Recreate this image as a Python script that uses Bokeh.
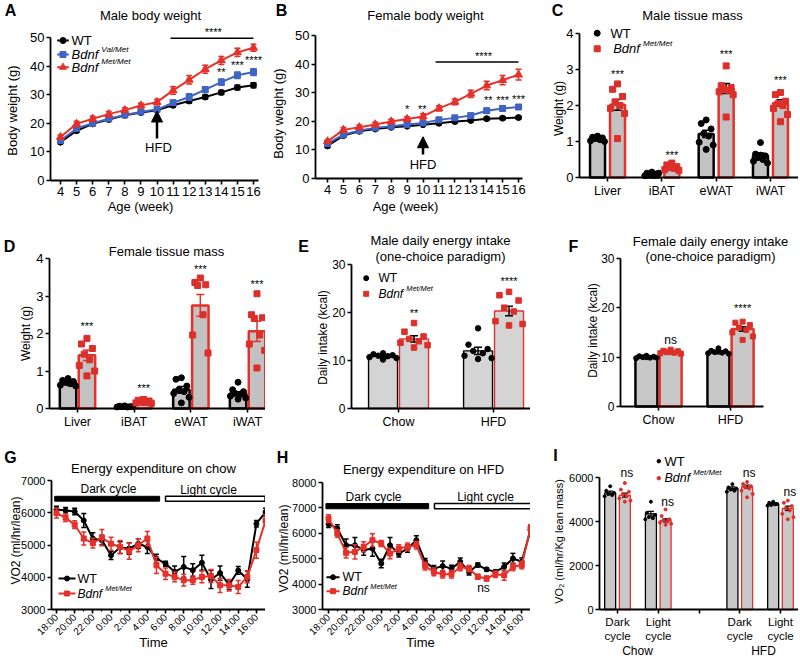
import math
from bokeh.plotting import figure
from bokeh.models import Range1d, FixedTicker, Label, Arrow, NormalHead
from bokeh.layouts import column, row
from bokeh.embed import file_html
from bokeh.resources import INLINE

FONT = "Liberation Sans"
RED = "#e5312a"
PTRED = "#dc2f2a"
BLUE = "#3f64c4"
BLACK = "#000000"

# ---------------- data ----------------
weeks = list(range(4, 17))
A_wt = [13.4, 17.4, 19.8, 21.3, 22.8, 23.8, 24.6, 26.3, 27.8, 29.2, 30.8, 32.5, 33.3]
A_wt_e = [0.5, 0.5, 0.5, 0.5, 0.5, 0.5, 0.5, 0.6, 0.7, 0.7, 0.7, 0.8, 0.9]
A_vm = [14.0, 18.2, 20.0, 21.6, 22.9, 24.0, 24.8, 27.2, 29.2, 31.8, 34.4, 36.8, 37.9]
A_vm_e = [0.5, 0.6, 0.6, 0.6, 0.5, 0.5, 0.6, 0.9, 1.1, 1.0, 1.1, 1.1, 1.2]
A_mm = [15.2, 19.8, 21.6, 23.2, 24.6, 26.2, 27.4, 31.5, 35.2, 38.9, 42.0, 44.8, 46.4]
A_mm_e = [0.7, 0.9, 0.9, 0.9, 0.8, 0.8, 1.0, 1.3, 1.5, 1.4, 1.4, 1.4, 1.2]

B_wt = [11.4, 15.0, 16.5, 17.3, 17.9, 18.3, 18.8, 19.3, 19.9, 20.3, 20.9, 21.1, 21.3]
B_wt_e = [0.5, 0.4, 0.4, 0.4, 0.4, 0.4, 0.4, 0.4, 0.5, 0.5, 0.5, 0.5, 0.5]
B_vm = [12.2, 15.3, 16.8, 17.7, 18.3, 18.9, 19.4, 20.5, 21.2, 22.0, 23.7, 24.5, 25.0]
B_vm_e = [0.5, 0.5, 0.5, 0.5, 0.5, 0.6, 0.6, 0.7, 0.7, 0.7, 0.8, 0.8, 0.8]
B_mm = [13.0, 17.0, 17.9, 18.9, 19.9, 20.8, 21.7, 24.5, 26.8, 29.6, 32.5, 34.4, 36.3]
B_mm_e = [0.5, 0.8, 0.8, 0.8, 0.8, 0.8, 0.9, 0.9, 1.0, 1.3, 1.5, 1.6, 1.9]

tissues = ["Liver", "iBAT", "eWAT", "iWAT"]
C_wt_mean = [1.07, 0.10, 1.21, 0.60]
C_wt_sem = [0.04, 0.02, 0.10, 0.08]
C_mm_mean = [2.02, 0.28, 2.47, 2.07]
C_mm_sem = [0.15, 0.03, 0.14, 0.09]
C_wt_pts = [[1.15, 1.12, 1.10, 1.08, 1.05, 1.02, 1.00, 1.10],
            [0.15, 0.12, 0.10, 0.08, 0.06, 0.05, 0.12, 0.09],
            [1.60, 1.50, 1.35, 1.22, 1.15, 0.98, 0.90, 0.78],
            [0.97, 0.65, 0.60, 0.55, 0.50, 0.45, 0.40, 0.62]]
C_mm_pts = [[2.60, 2.45, 2.25, 2.10, 2.00, 1.92, 1.78, 1.08],
            [0.40, 0.35, 0.30, 0.28, 0.25, 0.22, 0.20, 0.30],
            [3.10, 2.55, 2.50, 2.45, 2.42, 2.38, 2.30, 1.68],
            [2.36, 2.30, 2.12, 2.05, 2.00, 1.92, 1.75, 1.55]]
C_star_y = [2.88, 0.62, 3.42, 2.70]

D_wt_mean = [0.68, 0.05, 0.50, 0.40]
D_wt_sem = [0.04, 0.01, 0.09, 0.05]
D_mm_mean = [1.42, 0.18, 2.75, 2.06]
D_mm_sem = [0.14, 0.02, 0.29, 0.27]
D_wt_pts = [[0.80, 0.75, 0.72, 0.70, 0.66, 0.62, 0.60, 0.68],
            [0.07, 0.06, 0.05, 0.05, 0.04, 0.04, 0.05, 0.06],
            [0.82, 0.78, 0.60, 0.50, 0.45, 0.40, 0.30, 0.15],
            [0.70, 0.50, 0.45, 0.40, 0.38, 0.33, 0.28, 0.25]]
D_mm_pts = [[1.87, 1.72, 1.60, 1.45, 1.30, 1.15, 1.00, 0.87],
            [0.24, 0.22, 0.20, 0.18, 0.17, 0.15, 0.14, 0.16],
            [3.48, 3.36, 3.30, 3.28, 2.50, 1.96, 1.48],
            [3.06, 2.50, 2.42, 2.40, 1.96, 1.72, 1.55, 1.08]]
D_star_y = [2.20, 0.56, 3.73, 3.33]

diets = ["Chow", "HFD"]
E_wt_mean = [10.9, 12.0]
E_wt_sem = [0.25, 0.75]
E_mm_mean = [14.5, 20.3]
E_mm_sem = [0.65, 1.0]
E_wt_pts = [[11.5, 11.3, 11.1, 11.0, 10.9, 10.7, 10.5, 10.2],
            [16.7, 13.3, 12.4, 12.0, 11.5, 11.0, 10.5, 10.3]]
E_mm_pts = [[17.8, 16.0, 15.0, 14.5, 14.0, 13.7, 13.2, 12.7],
            [24.3, 23.6, 22.5, 21.0, 20.2, 18.2, 17.6, 17.3]]
E_marks = ["**", "****"]
E_mark_y = [20.0, 26.5]

F_wt_mean = [10.0, 11.0]
F_wt_sem = [0.10, 0.12]
F_mm_mean = [11.1, 15.7]
F_mm_sem = [0.12, 0.45]
F_wt_pts = [[10.3, 10.2, 10.1, 10.0, 9.9, 9.8, 9.9, 10.0],
            [11.8, 11.3, 11.2, 11.0, 10.9, 10.8, 10.7, 11.1]]
F_mm_pts = [[11.5, 11.3, 11.2, 11.0, 10.9, 10.8, 10.7, 11.1],
            [17.2, 17.0, 16.5, 16.0, 15.5, 15.0, 14.2, 13.5]]
F_marks = ["ns", "****"]
F_mark_y = [13.4, 19.9]

hours = list(range(24))
time_ticks = list(range(0, 24, 2))
time_labels = ["18:00", "20:00", "22:00", "0:00", "2:00", "4:00",
               "6:00", "8:00", "10:00", "12:00", "14:00", "16:00"]
G_wt = [6100, 6070, 6040, 5760, 5200, 5150, 4680, 4920, 4890, 5040, 4940, 4580,
        4420, 4170, 4320, 4220, 4450, 3930, 4130, 3770, 4210, 3940, 5660, 6020]
G_wt_e = [100, 90, 100, 220, 180, 150, 130, 180, 180, 150, 200, 130,
          80, 180, 320, 200, 230, 280, 220, 150, 120, 250, 100, 120]
G_mm = [5990, 5850, 5630, 5200, 5060, 5230, 5040, 4940, 4810, 4990, 5200, 4370,
        4110, 4010, 3910, 3910, 4010, 4040, 3750, 3750, 3700, 4010, 4840, 5760]
G_mm_e = [150, 120, 120, 200, 150, 250, 200, 200, 250, 200, 220, 250,
          180, 150, 180, 130, 180, 200, 220, 180, 200, 180, 250, 180]

H_wt = [6360, 6190, 5530, 5530, 5340, 5400, 4810, 5530, 5200, 5400, 5730, 4880,
        4610, 4710, 4610, 4880, 4480, 4750, 4580, 4480, 4680, 5010, 4880, 6130]
H_wt_e = [130, 150, 250, 300, 200, 300, 170, 300, 130, 150, 170, 130,
          120, 200, 130, 150, 120, 80, 60, 80, 150, 200, 150, 200]
H_mm = [6580, 5990, 5230, 5270, 5470, 5730, 5600, 5200, 5400, 5470, 5530, 4710,
        4480, 4390, 4390, 4680, 4610, 4290, 4220, 4390, 4350, 4680, 4750, 6190]
H_mm_e = [150, 150, 200, 280, 200, 250, 120, 200, 150, 150, 150, 150,
          150, 150, 150, 150, 120, 100, 100, 130, 200, 150, 150, 150]

I_cycles = ["Dark\ncycle", "Light\ncycle", "", "Dark\ncycle", "Light\ncycle"]
I_groups = ["Chow", "HFD"]
I_wt_mean = [5300, 4350, 5500, 4800]
I_wt_sem = [80, 110, 70, 50]
I_mm_mean = [5200, 4050, 5580, 4600]
I_mm_sem = [90, 70, 80, 100]
I_wt_pts = [[5600, 5400, 5300, 5250, 5200, 5150],
            [4900, 4400, 4300, 4200, 4150, 4100],
            [5700, 5550, 5500, 5450, 5400, 5350],
            [4900, 4850, 4800, 4750, 4780, 4720]]
I_mm_pts = [[5750, 5450, 5350, 5250, 5150, 5050, 4950, 4900],
            [4550, 4250, 4100, 4050, 4000, 3950, 3900, 3850],
            [5800, 5700, 5600, 5550, 5500, 5400, 5250, 5100],
            [4950, 4850, 4700, 4600, 4500, 4350, 4200, 4100]]
I_marks = ["ns", "ns", "ns", "ns"]
I_mark_y = [6185, 4872, 6185, 5324]

# ---------------- helpers ----------------
JIT = [0.0, -0.6, 0.6, -0.3, 0.3, -0.85, 0.85, 0.0, -0.45, 0.45]


class Panel:
    """Figure whose frame fills its box; axes are pinned (fixed_location) at the data origin."""

    def __init__(self, box, axx, xr, yspec, yticks, xticks, xlabels=None,
                 xfont=12, yfont=12, xorient=None, minor=None):
        bx0, by0, bx1, by1 = box
        fx0, fx1 = axx                     # pixel extent of the x axis
        ymin, pymin, ymax, pymax = yspec   # data values at pixel rows
        kx = (xr[1] - xr[0]) / (fx1 - fx0)
        ky = (ymax - ymin) / (pymin - pymax)
        self.box = box
        self.kx, self.ky = kx, ky
        self.x0 = xr[0] - (fx0 - bx0) * kx
        self.x1 = xr[0] + (bx1 - fx0) * kx
        self.y0 = ymin - (by1 - pymin) * ky
        self.y1 = ymin + (pymin - by0) * ky
        p = figure(width=bx1 - bx0, height=by1 - by0, output_backend="svg",
                   toolbar_location=None, title=None,
                   x_range=Range1d(self.x0, self.x1), y_range=Range1d(self.y0, self.y1),
                   min_border=0)
        p.xgrid.visible = False
        p.ygrid.visible = False
        p.outline_line_color = None
        p.yaxis.fixed_location = xr[0]
        p.xaxis.fixed_location = ymin
        p.yaxis.bounds = (ymin, ymax)
        p.xaxis.bounds = (xr[0], xr[1])
        for ax in (p.xaxis[0], p.yaxis[0]):
            ax.axis_line_color = "black"
            ax.axis_line_width = 1.8
            ax.major_tick_line_color = "black"
            ax.major_tick_line_width = 1.6
            ax.major_tick_out = 4
            ax.major_tick_in = 0
            ax.minor_tick_line_color = None
            ax.major_label_text_font = FONT
            ax.major_label_text_color = "black"
            ax.major_label_standoff = 2
        p.xaxis.major_label_text_font_size = f"{xfont}px"
        p.yaxis.major_label_text_font_size = f"{yfont}px"
        p.yaxis.ticker = FixedTicker(ticks=yticks)
        p.xaxis.ticker = FixedTicker(ticks=xticks, minor_ticks=minor or [])
        if minor:
            p.xaxis.minor_tick_line_color = "black"
            p.xaxis.minor_tick_line_width = 1.2
            p.xaxis.minor_tick_out = 2
            p.xaxis.minor_tick_in = 0
        if xlabels is not None:
            p.xaxis.major_label_overrides = {t: l for t, l in zip(xticks, xlabels)}
        if xorient:
            p.xaxis.major_label_orientation = xorient
        self.p = p

    def X(self, px):
        return self.x0 + (px - self.box[0]) * self.kx

    def Y(self, py):
        return self.y0 + (self.box[3] - py) * self.ky

    def dx(self, npx):
        return npx * self.kx

    def T(self, px, py, s, size=12, align="center", baseline="middle",
          angle=0.0, style="normal", color="black"):
        self.p.add_layout(Label(x=px - self.box[0], y=self.box[3] - py,
                                x_units="screen", y_units="screen",
                                text=s, text_font=FONT, text_font_size=f"{size}px",
                                text_align=align, text_baseline=baseline, angle=angle,
                                text_font_style=style, text_color=color))

    def DT(self, x, y, s, size=12, align="center", baseline="middle", color="black"):
        self.p.add_layout(Label(x=x, y=y, text=s, text_font=FONT, text_font_size=f"{size}px",
                                text_align=align, text_baseline=baseline, text_color=color))


def errbars(P, xs, ys, es, color, cap_px=7, lw=1.5):
    h = P.dx(cap_px / 2)
    lo = [y - e for y, e in zip(ys, es)]
    hi = [y + e for y, e in zip(ys, es)]
    P.p.segment(x0=xs, y0=lo, x1=xs, y1=hi, line_color=color, line_width=lw)
    xl = [x - h for x in xs]
    xr = [x + h for x in xs]
    P.p.segment(x0=xl, y0=hi, x1=xr, y1=hi, line_color=color, line_width=lw)
    P.p.segment(x0=xl, y0=lo, x1=xr, y1=lo, line_color=color, line_width=lw)


def series(P, x, y, e, color, marker, msize, cap=6):
    errbars(P, x, y, e, color, cap, 1.5)
    P.p.line(x, y, line_color=color, line_width=2)
    P.p.scatter(x, y, marker=marker, size=msize, color=color)


def bars(P, centers, off, width, wt_m, wt_e, mm_m, mm_e, wt_pts, mm_pts, fill, lw,
         ecol_wt, ecol_mm, msize, mm_marker="square", spread=0.55, cap=8, err_lw=1.5):
    xw = [c - off for c in centers]
    xm = [c + off for c in centers]
    P.p.vbar(x=xw, top=wt_m, width=width, bottom=0, fill_color=fill, line_color=BLACK, line_width=lw)
    P.p.vbar(x=xm, top=mm_m, width=width, bottom=0, fill_color=fill, line_color=RED, line_width=lw)
    errbars(P, xw, wt_m, wt_e, ecol_wt, cap, err_lw)
    errbars(P, xm, mm_m, mm_e, ecol_mm, cap, err_lw)
    for xs, groups, color, marker in ((xw, wt_pts, BLACK, "circle"), (xm, mm_pts, PTRED, mm_marker)):
        px, py = [], []
        for x, pts in zip(xs, groups):
            for i, v in enumerate(pts):
                px.append(x + JIT[i % len(JIT)] * width * spread)
                py.append(v)
        P.p.scatter(px, py, marker=marker, size=msize, color=color)
    return xw, xm


def bdnf(P, px, py, sup, size):
    P.T(px, py, "Bdnf", size=size, align="left", style="italic")
    P.T(px + 2.06 * size + 3, py - 0.42 * size, sup, size=round(size * 0.62, 1),
        align="left", style="italic")


def line_key(P, x0, x1, py, color, marker, msize):
    y = P.Y(py)
    P.p.line([P.X(x0), P.X(x1)], [y, y], line_color=color, line_width=2)
    P.p.scatter([P.X((x0 + x1) / 2)], [y], marker=marker, size=msize, color=color)


def dot_key(P, px, py, color, marker, msize):
    P.p.scatter([P.X(px)], [P.Y(py)], marker=marker, size=msize, color=color)


ROT = math.pi / 2

# ---------------- A ----------------
A = Panel((0, 0, 265, 215), (50, 258), (3.378, 16.311), (0, 180, 50, 37),
          [0, 10, 20, 30, 40, 50], weeks, xfont=13, yfont=13)
series(A, weeks, A_wt, A_wt_e, BLACK, "circle", 6)
series(A, weeks, A_vm, A_vm_e, BLUE, "square", 6)
series(A, weeks, A_mm, A_mm_e, RED, "triangle", 8)
A.p.line([10.84, 16], [49.7, 49.7], line_color="black", line_width=1.5)
A.DT(13.5, 51.9, "****", 11)
A.DT(14, 37.9, "**", 11)
A.DT(15, 40.5, "***", 11)
A.DT(16, 42.0, "****", 11)
A.p.add_layout(Arrow(end=NormalHead(size=11, fill_color="black", line_color="black"),
                     x_start=10, y_start=14.7, x_end=10, y_end=24.3,
                     line_width=2.5, line_color="black"))
A.DT(10.09, 11.4, "HFD", 13)
line_key(A, 56.7, 68.3, 40, BLACK, "circle", 6)
line_key(A, 56.7, 68.3, 54, BLUE, "square", 6)
line_key(A, 56.7, 68.3, 66.7, RED, "triangle", 7)
A.T(71, 40, "WT", 13, align="left")
bdnf(A, 71, 54, "Val/Met", 13)
bdnf(A, 71, 66.7, "Met/Met", 13)
A.T(150, 15, "Male body weight", 13)
A.T(10, 10, "A", 16, style="bold")
A.T(12, 110, "Body weight (g)", 13, angle=ROT)
A.T(140, 206, "Age (week)", 13)

# ---------------- B ----------------
B = Panel((265, 0, 530, 215), (315, 522), (3.246, 16.25), (0, 178, 50, 35),
          [0, 10, 20, 30, 40, 50], weeks, xfont=13, yfont=13)
series(B, weeks, B_wt, B_wt_e, BLACK, "circle", 6)
series(B, weeks, B_vm, B_vm_e, BLUE, "square", 6)
series(B, weeks, B_mm, B_mm_e, RED, "triangle", 8)
B.p.line([10.79, 16], [40.7, 40.7], line_color="black", line_width=1.5)
B.DT(13.8, 43.0, "****", 11)
B.DT(9.0, 24.4, "*", 11)
B.DT(9.95, 24.4, "**", 11)
B.DT(14.1, 27.5, "**", 11)
B.DT(15.0, 27.5, "***", 11)
B.DT(16.0, 27.9, "***", 11)
B.p.add_layout(Arrow(end=NormalHead(size=11, fill_color="black", line_color="black"),
                     x_start=10, y_start=8.4, x_end=10, y_end=14.6,
                     line_width=2.5, line_color="black"))
B.DT(10.0, 4.9, "HFD", 13)
B.T(425, 15, "Female body weight", 13)
B.T(281, 10, "B", 16, style="bold")
B.T(278, 113, "Body weight (g)", 13, angle=ROT)
B.T(405, 206, "Age (week)", 13)

# ---------------- C ----------------
C = Panel((530, 0, 798, 215), (579, 798), (-0.516, 3.516), (0, 177, 4, 33),
          [0, 1, 2, 3, 4], [0, 1, 2, 3], tissues, xfont=12.5, yfont=13)
cw, cm = bars(C, [0, 1, 2, 3], 0.184, 0.276, C_wt_mean, C_wt_sem, C_mm_mean, C_mm_sem,
              C_wt_pts, C_mm_pts, "#c2c2c2", 2.5, BLACK, BLACK, 6)
for x, y in zip(cm, C_star_y):
    C.DT(x, y, "***", 11)
dot_key(C, 596.7, 32.7, BLACK, "circle", 6)
dot_key(C, 596.7, 48.3, PTRED, "square", 6)
C.T(610, 32.7, "WT", 13, align="left")
bdnf(C, 612.7, 48.3, "Met/Met", 13)
C.T(692, 15, "Male tissue mass", 13)
C.T(557, 10, "C", 16, style="bold")
C.T(558, 108, "Weight (g)", 12, angle=ROT)

# ---------------- D ----------------
D = Panel((0, 215, 265, 430), (49, 265), (-0.494, 3.317), (0, 408, 4, 258),
          [0, 1, 2, 3, 4], [0, 1, 2, 3], tissues, xfont=12.5, yfont=13)
dw, dm = bars(D, [0, 1, 2, 3], 0.167, 0.29, D_wt_mean, D_wt_sem, D_mm_mean, D_mm_sem,
              D_wt_pts, D_mm_pts, "#c2c2c2", 2.5, BLACK, RED, 6)
for x, y in zip(dm, D_star_y):
    D.DT(x, y, "***", 11)
D.T(166, 251, "Female tissue mass", 13)
D.T(9, 246, "D", 16, style="bold")
D.T(25, 333, "Weight (g)", 12, angle=ROT)

# ---------------- E ----------------
E = Panel((265, 215, 530, 430), (351, 530), (-0.495, 1.389), (0, 408, 30, 264),
          [0, 10, 20, 30], [0, 1], diets, xfont=12.5, yfont=12)
ew, em = bars(E, [0, 1], 0.163, 0.305, E_wt_mean, E_wt_sem, E_mm_mean, E_mm_sem,
              E_wt_pts, E_mm_pts, "#d4d4d4", 1.4, BLACK, BLACK, 5.5)
for x, y, s in zip(em, E_mark_y, E_marks):
    E.DT(x, y, s, 11)
dot_key(E, 365.7, 277.7, BLACK, "circle", 5)
dot_key(E, 365.7, 293.3, PTRED, "square", 5)
E.T(378, 277.7, "WT", 12, align="left")
bdnf(E, 378, 293.3, "Met/Met", 12)
E.T(440, 240, "Male daily energy intake", 13)
E.T(440, 256, "(one-choice paradigm)", 13)
E.T(303, 246, "E", 16, style="bold")
E.T(322, 337, "Daily intake (kcal)", 12, angle=ROT)

# ---------------- F ----------------
F = Panel((530, 215, 798, 430), (620, 763), (-0.528, 1.458), (0, 406, 30, 258),
          [0, 10, 20, 30], [0, 1], diets, xfont=12.5, yfont=12)
fw, fm = bars(F, [0, 1], 0.168, 0.305, F_wt_mean, F_wt_sem, F_mm_mean, F_mm_sem,
              F_wt_pts, F_mm_pts, "#c8c8c8", 2.5, BLACK, BLACK, 5)
for x, y, s in zip(fm, F_mark_y, F_marks):
    F.DT(x, y, s, 12 if s == "ns" else 11)
F.T(710, 241, "Female daily energy intake", 13)
F.T(710, 256, "(one-choice paradigm)", 13)
F.T(573, 246, "F", 16, style="bold")
F.T(592, 330, "Daily intake (kcal)", 12, angle=ROT)

# ---------------- G ----------------
G = Panel((0, 430, 265, 656), (51, 265), (-0.55, 23.0), (3000, 609, 7000, 480),
          [3000, 4000, 5000, 6000, 7000], time_ticks, time_labels, xfont=10, yfont=11,
          xorient=math.pi / 4, minor=hours)
G.p.quad(left=[-0.2], right=[11.35], bottom=[6360], top=[6510], fill_color="black", line_color="black")
G.p.quad(left=[12.0], right=[22.95], bottom=[6360], top=[6510], fill_color="white",
         line_color="black", line_width=1.5)
G.T(108, 488, "Dark cycle", 12)
G.T(208, 489, "Light cycle", 12)
series(G, hours, G_wt, G_wt_e, BLACK, "circle", 5, cap=5)
series(G, hours, G_mm, G_mm_e, RED, "square", 5, cap=5)
line_key(G, 58, 75, 578, BLACK, "circle", 5)
line_key(G, 58, 75, 593, RED, "square", 5)
G.T(77, 578, "WT", 12.5, align="left")
bdnf(G, 77, 593, "Met/Met", 12)
G.T(153, 468, "Energy expenditure on chow", 13)
G.T(10, 457, "G", 16, style="bold")
G.T(15, 540, "VO2 (ml/hr/lean)", 12, angle=ROT)
G.T(153, 642, "Time", 13)

# ---------------- H ----------------
H = Panel((265, 430, 530, 656), (322, 530), (-0.69, 23.0), (3000, 609, 8000, 482),
          [3000, 4000, 5000, 6000, 7000, 8000], time_ticks, time_labels, xfont=10, yfont=11,
          xorient=math.pi / 4, minor=hours)
H.p.quad(left=[-0.3], right=[11.4], bottom=[6965], top=[7170], fill_color="black", line_color="black")
H.p.quad(left=[12.06], right=[23.3], bottom=[6965], top=[7170], fill_color="white",
         line_color="black", line_width=1.5)
H.T(373, 496, "Dark cycle", 12)
H.T(485, 496, "Light cycle", 12)
series(H, hours, H_wt, H_wt_e, BLACK, "circle", 5, cap=5)
series(H, hours, H_mm, H_mm_e, RED, "square", 5, cap=5)
H.T(483, 587, "ns", 12)
line_key(H, 326, 339, 576.7, BLACK, "circle", 5)
line_key(H, 326, 339, 590.7, RED, "square", 5)
H.T(342, 576.7, "WT", 12.5, align="left")
bdnf(H, 342, 590.7, "Met/Met", 12)
H.T(423, 469, "Energy expenditure on HFD", 13)
H.T(282, 457, "H", 16, style="bold")
H.T(283, 548, "VO2 (ml/hr/lean)", 12, angle=ROT)
H.T(420, 642, "Time", 13)

# ---------------- I ----------------
I_pos = [0, 1, 3, 4]
I = Panel((530, 430, 798, 656), (599, 798), (-0.442, 4.442), (0, 609, 6000, 477),
          [0, 2000, 4000, 6000], [0, 1, 2, 3, 4], I_cycles, xfont=11.5, yfont=11)
iw, im = bars(I, I_pos, 0.18, 0.27, I_wt_mean, I_wt_sem, I_mm_mean, I_mm_sem,
              I_wt_pts, I_mm_pts, "#c8c8c8", 1.3, BLACK, BLACK, 3, mm_marker="circle",
              spread=0.6, cap=6, err_lw=1.2)
for x, y, s in zip(im, I_mark_y, I_marks):
    I.DT(x + 0.05, y, s, 12)
dot_key(I, 658.3, 460.7, BLACK, "circle", 3.5)
dot_key(I, 658.3, 477.7, PTRED, "circle", 3.5)
I.T(664, 460.7, "WT", 13, align="left")
bdnf(I, 664, 477.7, "Met/Met", 12.5)
I.T(637, 650, I_groups[0], 12)
I.T(763, 650, I_groups[1], 12)
I.T(555, 455, "I", 16, style="bold")
I.T(558, 541, "VO\u2082 (ml/hr/Kg lean mass)", 11, angle=ROT)

layout = column(row(A.p, B.p, C.p), row(D.p, E.p, F.p), row(G.p, H.p, I.p))
open("out.html", "w").write(file_html(layout, INLINE))
